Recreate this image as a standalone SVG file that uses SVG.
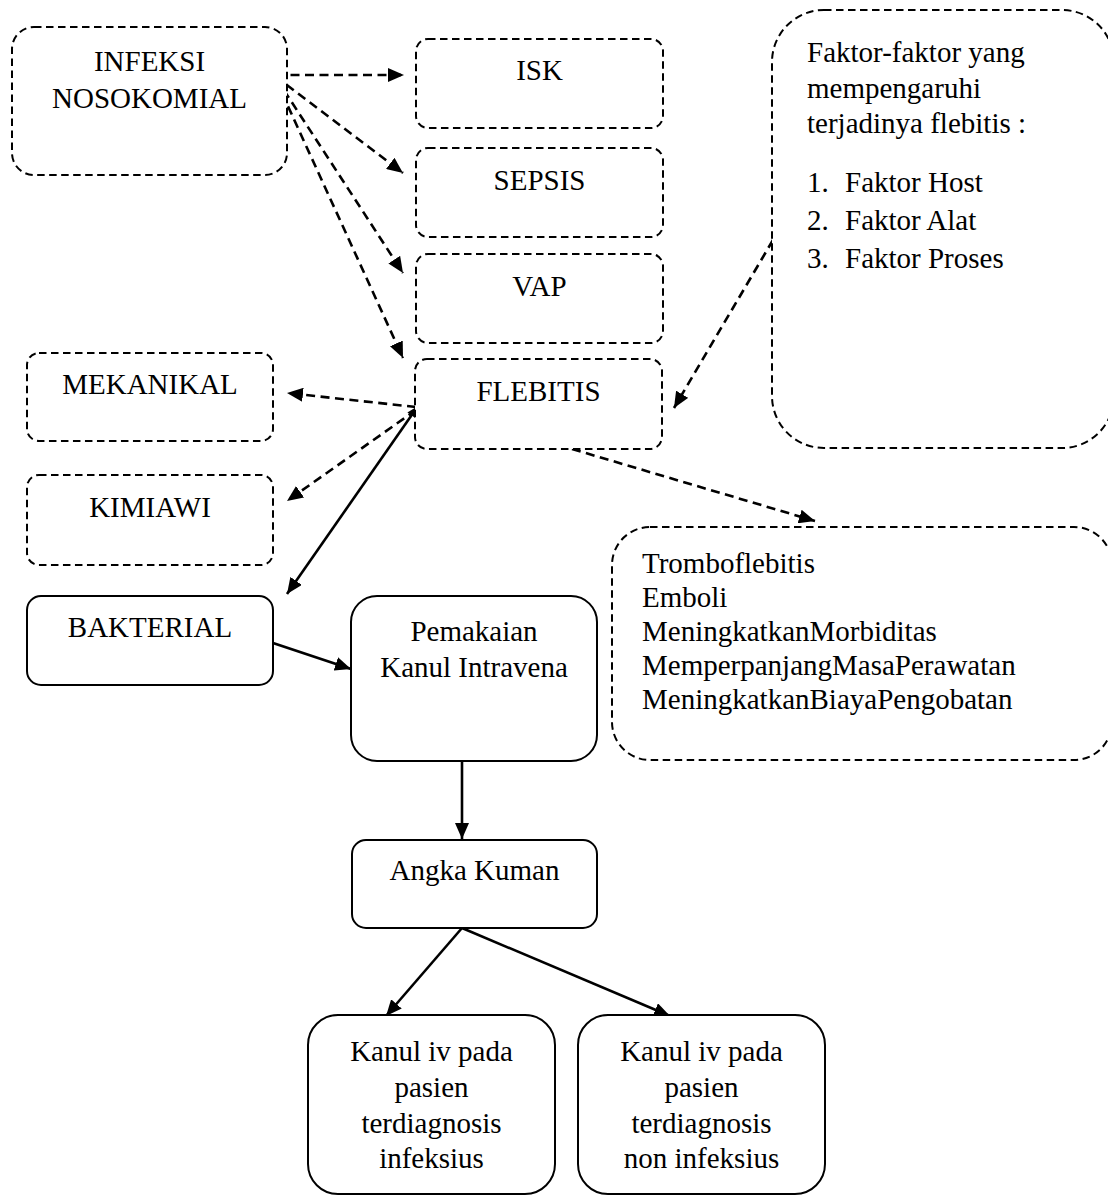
<svg xmlns="http://www.w3.org/2000/svg" width="1108" height="1195" viewBox="0 0 1108 1195">
<style>
.bx{fill:#fff;stroke:#000;stroke-width:2}
.d{stroke-dasharray:7.5 4.5}
.t{font-family:"Liberation Serif","Times New Roman",serif;font-size:29px;fill:#000}
.m{text-anchor:middle}
.c{fill:none;stroke:#000;stroke-width:2.6}
.cd{stroke-dasharray:9 5.5}
</style>
<defs>
<marker id="ah" viewBox="0 0 16 14" refX="16" refY="7" markerWidth="16" markerHeight="14" markerUnits="userSpaceOnUse" orient="auto-start-reverse">
<path d="M0,0 L16,7 L0,14 z" fill="#000"/>
</marker>
<marker id="sm" viewBox="0 0 16 14" refX="16" refY="7" markerWidth="12" markerHeight="10" markerUnits="userSpaceOnUse" orient="auto-start-reverse">
<path d="M0,0 L16,7 L0,14 z" fill="#000"/>
</marker>
</defs>
<rect width="1108" height="1195" fill="#fff"/>
<g id="connectors">
<path class="c cd" d="M276,75 L404,75" marker-end="url(#ah)"/>
<path class="c cd" d="M275,76 L403,173" marker-start="url(#sm)" marker-end="url(#ah)"/>
<path class="c cd" d="M276,78 L403,273" marker-end="url(#ah)"/>
<path class="c cd" d="M276,80 L403,358" marker-end="url(#ah)"/>
<path class="c cd" d="M416,407 L287,393" marker-end="url(#ah)"/>
<path class="c cd" d="M416,410 L287,501" marker-end="url(#ah)"/>
<path class="c" d="M418,406 L287,594" marker-start="url(#sm)" marker-end="url(#ah)"/>
<path class="c cd" d="M773,240 L674,408" marker-end="url(#ah)"/>
<path class="c cd" d="M572,449 L815,521" marker-end="url(#ah)"/>
<path class="c" d="M273,643 L351,669" marker-end="url(#ah)"/>
<path class="c" d="M462,761 L462,839" marker-end="url(#ah)"/>
<path class="c" d="M462,928 L386,1016" marker-end="url(#ah)"/>
<path class="c" d="M462,928 L670,1016" marker-end="url(#ah)"/>
</g>
<g id="infeksi">
<rect class="bx d" x="12" y="27" width="275" height="148" rx="22"/>
<text class="t m" x="149.5" y="71">INFEKSI</text>
<text class="t m" x="149.5" y="108">NOSOKOMIAL</text>
</g>
<g id="isk">
<rect class="bx d" x="416" y="39" width="247" height="89" rx="12"/>
<text class="t m" x="539.5" y="80">ISK</text>
</g>
<g id="sepsis">
<rect class="bx d" x="416" y="148" width="247" height="89" rx="12"/>
<text class="t m" x="539.5" y="190">SEPSIS</text>
</g>
<g id="vap">
<rect class="bx d" x="416" y="254" width="247" height="89" rx="12"/>
<text class="t m" x="539.5" y="296">VAP</text>
</g>
<g id="flebitis">
<rect class="bx d" x="415" y="359" width="247" height="90" rx="12"/>
<text class="t m" x="538.5" y="401">FLEBITIS</text>
</g>
<g id="faktor">
<rect class="bx d" x="772" y="10" width="342" height="438" rx="52"/>
<text class="t" x="807" y="62">Faktor-faktor yang</text>
<text class="t" x="807" y="98">mempengaruhi</text>
<text class="t" x="807" y="133">terjadinya flebitis :</text>
<text class="t" x="807" y="192">1.</text><text class="t" x="845" y="192">Faktor Host</text>
<text class="t" x="807" y="230">2.</text><text class="t" x="845" y="230">Faktor Alat</text>
<text class="t" x="807" y="268">3.</text><text class="t" x="845" y="268">Faktor Proses</text>
</g>
<g id="mekanikal">
<rect class="bx d" x="27" y="353" width="246" height="88" rx="12"/>
<text class="t m" x="150" y="394">MEKANIKAL</text>
</g>
<g id="kimiawi">
<rect class="bx d" x="27" y="475" width="246" height="90" rx="12"/>
<text class="t m" x="150" y="517">KIMIAWI</text>
</g>
<g id="bakterial">
<rect class="bx" x="27" y="596" width="246" height="89" rx="14"/>
<text class="t m" x="150" y="637">BAKTERIAL</text>
</g>
<g id="dampak">
<rect class="bx d" x="612" y="527" width="500" height="233" rx="38"/>
<text class="t" x="642" y="573">Tromboflebitis</text>
<text class="t" x="642" y="607">Emboli</text>
<text class="t" x="642" y="641">MeningkatkanMorbiditas</text>
<text class="t" x="642" y="675">MemperpanjangMasaPerawatan</text>
<text class="t" x="642" y="709">MeningkatkanBiayaPengobatan</text>
</g>
<g id="pemakaian">
<rect class="bx" x="351" y="596" width="246" height="165" rx="26"/>
<text class="t m" x="474" y="641">Pemakaian</text>
<text class="t m" x="474" y="677">Kanul Intravena</text>
</g>
<g id="angka">
<rect class="bx" x="352" y="840" width="245" height="88" rx="14"/>
<text class="t m" x="474.5" y="880">Angka Kuman</text>
</g>
<g id="kanul-infeksius">
<rect class="bx" x="308" y="1015" width="247" height="179" rx="30"/>
<text class="t m" x="431.5" y="1061">Kanul iv pada</text>
<text class="t m" x="431.5" y="1097">pasien</text>
<text class="t m" x="431.5" y="1133">terdiagnosis</text>
<text class="t m" x="431.5" y="1168">infeksius</text>
</g>
<g id="kanul-non">
<rect class="bx" x="578" y="1015" width="247" height="179" rx="30"/>
<text class="t m" x="701.5" y="1061">Kanul iv pada</text>
<text class="t m" x="701.5" y="1097">pasien</text>
<text class="t m" x="701.5" y="1133">terdiagnosis</text>
<text class="t m" x="701.5" y="1168">non infeksius</text>
</g>
</svg>
